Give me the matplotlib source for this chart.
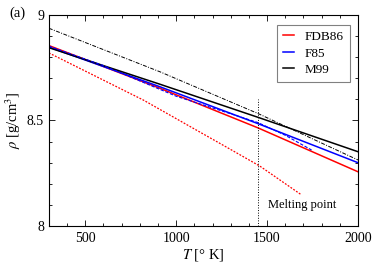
import matplotlib
matplotlib.use("Agg")
import matplotlib.pyplot as plt
from matplotlib.ticker import MultipleLocator, FixedLocator, FixedFormatter

plt.rcParams['font.family'] = ['Liberation Serif', 'DejaVu Serif']
plt.rcParams['mathtext.fontset'] = 'stix'

# Data
T_fdb = [300, 910, 1450, 2000]
rho_fdb = [8.855, 8.653, 8.465, 8.257]

T_f85 = [300, 910, 1450, 2000]
rho_f85 = [8.848, 8.66, 8.485, 8.30]

T_m99 = [300, 910, 1450, 2000]
rho_m99 = [8.845, 8.672, 8.515, 8.352]

T_m99_dd = [300, 910, 1450, 2000]
rho_m99_dd = [8.937, 8.731, 8.533, 8.313]

T_f85_d = [300, 600, 1000, 1450, 1600, 1745]
rho_f85_d = [8.852, 8.76, 8.615, 8.49, 8.43, 8.36]

T_fdb_d = [300, 819, 1305, 1460, 1690]
rho_fdb_d = [8.82, 8.597, 8.36, 8.284, 8.147]

T_melt = 1450
melt_top = 8.6

fig = plt.figure(figsize=(3.82, 2.67), dpi=100)
ax = fig.add_axes([0.128, 0.1536, 0.809, 0.7904])

ax.plot(T_fdb, rho_fdb, color='red', lw=1.1, label='FDB86')
ax.plot(T_f85, rho_f85, color='blue', lw=1.1, label='F85')
ax.plot(T_m99, rho_m99, color='black', lw=1.1, label='M99')
ax.plot(T_m99_dd, rho_m99_dd, color='black', lw=0.7, ls='-.', dashes=(4, 1.5, 1, 1.5))
ax.plot(T_f85_d, rho_f85_d, color='blue', lw=0.8, ls='--', dashes=(3, 1.5))
ax.plot(T_fdb_d, rho_fdb_d, color='red', lw=0.9, ls='--', dashes=(1.5, 1.2))
ax.plot([T_melt, T_melt], [8.0, melt_top], color='black', lw=0.7, ls=':')
ax.text(1505, 8.1, 'Melting point', fontsize=9, va='center', ha='left')

ax.set_xlim(300, 2000)
ax.set_ylim(8, 9)
ax.xaxis.set_major_locator(FixedLocator([500, 1000, 1500, 2000]))
ax.xaxis.set_minor_locator(MultipleLocator(100))
ax.yaxis.set_major_locator(FixedLocator([8, 8.5, 9]))
ax.yaxis.set_major_formatter(FixedFormatter(['8', '8.5', '9']))
ax.yaxis.set_minor_locator(MultipleLocator(0.1))
ax.tick_params(which='both', direction='in', top=True, right=True, labelsize=10)
ax.tick_params(which='major', length=4, width=0.6)
ax.tick_params(which='minor', length=2, width=0.6)
ax.tick_params(axis='x', pad=4)
for s in ax.spines.values():
    s.set_linewidth(0.8)

ax.set_xlabel(r'$T$ [° K]', fontsize=10.5, labelpad=2)
ax.set_ylabel(r'$\rho$ [g/cm$^3$]', fontsize=10.5, labelpad=3)

leg = ax.legend(loc='upper right', bbox_to_anchor=(0.974, 0.953), borderaxespad=0,
                fontsize=9.5, fancybox=False, edgecolor='gray', handlelength=0.9,
                handletextpad=0.8, borderpad=0.45, labelspacing=0.32, framealpha=1)
leg.get_frame().set_linewidth(0.8)

fig.text(0.025, 0.95, '(a)', fontsize=10.5, va='center', ha='left')

fig.savefig('out.png', dpi=100)
